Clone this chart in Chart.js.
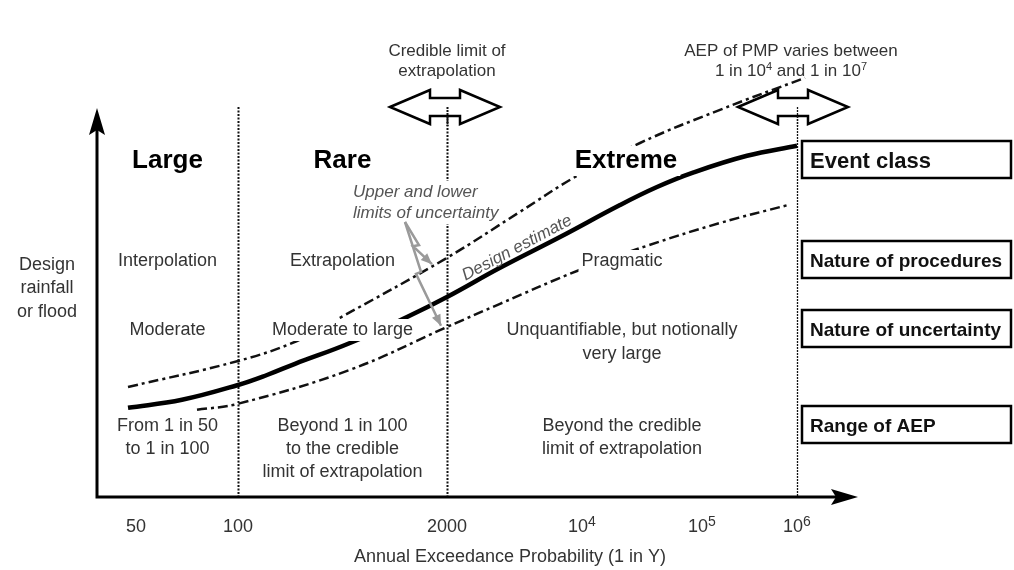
<!DOCTYPE html>
<html>
<head>
<meta charset="utf-8">
<script src="https://cdn.jsdelivr.net/npm/chart.js"></script>
<style>
  body { margin: 0; background: #fff; }
</style>
</head>
<body>
<canvas id="aepChart" width="1014" height="570"></canvas>
<script>
// schematic x position (not a true log scale), design magnitude in arbitrary units
const designX = [0.31, 0.85, 1.41, 1.70, 1.98, 2.53, 3.10, 3.50, 4.03, 4.63, 5.23, 5.60, 5.96, 6.50, 7.00];
const designY = [2.23, 2.43, 2.80, 3.05, 3.33, 3.85, 4.50, 5.00, 5.73, 6.50, 7.30, 7.75, 8.11, 8.53, 8.78];
const upperX = [0.31, 1.41, 2.00, 2.43, 3.50, 4.23, 4.78, 5.43, 6.23, 7.08];
const upperY = [2.75, 3.40, 3.90, 4.48, 5.98, 7.13, 8.00, 8.85, 9.68, 10.48];
const lowerX = [1.00, 1.41, 2.53, 3.50, 4.03, 4.83, 5.50, 6.23, 6.91];
const lowerY = [2.18, 2.33, 3.18, 4.25, 4.83, 5.68, 6.28, 6.85, 7.30];

const tickValues = [0.39, 1.41, 3.5, 4.85, 6.05, 7.0];
const tickLabels = ['50', '100', '2000', '10', '10', '10'];
const tickPowers = ['', '', '', '4', '5', '6'];
const dividers = [1.41, 3.5, 7.0];

const eventClasses = ['Large', 'Rare', 'Extreme'];
const procedures = ['Interpolation', 'Extrapolation', 'Pragmatic'];
const uncertainty = [['Moderate'], ['Moderate to large'], ['Unquantifiable, but notionally', 'very large']];
const aepRanges = [
  ['From 1 in 50', 'to 1 in 100'],
  ['Beyond 1 in 100', 'to the credible', 'limit of extrapolation'],
  ['Beyond the credible', 'limit of extrapolation']
];
const rowTitles = ['Event class', 'Nature of procedures', 'Nature of uncertainty', 'Range of AEP'];

const FONT = '"Liberation Sans", Arial, sans-serif';
const GREY = '#333';

function toPoints(xs, ys) {
  return xs.map((x, i) => ({ x: x, y: ys[i] }));
}

function text(ctx, str, x, y, font, color, align, bgHalf) {
  ctx.font = font;
  ctx.textAlign = align || 'center';
  ctx.textBaseline = 'middle';
  if (bgHalf) {
    const w = ctx.measureText(str).width;
    const left = align === 'left' ? x : x - w / 2;
    ctx.fillStyle = '#fff';
    ctx.fillRect(left - 3, y - bgHalf, w + 6, bgHalf * 2);
  }
  ctx.fillStyle = color;
  ctx.fillText(str, x, y);
}

// draws runs of [string, isSuperscript] centred on cx
function supText(ctx, parts, cx, y, size, supSize, color) {
  const big = size + 'px ' + FONT, small = supSize + 'px ' + FONT;
  let total = 0;
  parts.forEach(p => { ctx.font = p[1] ? small : big; total += ctx.measureText(p[0]).width; });
  let x = cx - total / 2;
  ctx.textAlign = 'left';
  ctx.fillStyle = color;
  parts.forEach(p => {
    ctx.font = p[1] ? small : big;
    ctx.textBaseline = p[1] ? 'alphabetic' : 'middle';
    ctx.fillText(p[0], x, p[1] ? y - 1 : y);
    x += ctx.measureText(p[0]).width;
  });
}

function doubleArrow(ctx, cx, cy) {
  const half = 55, head = 40, hh = 17, sh = 9;
  ctx.beginPath();
  ctx.moveTo(cx - half, cy);
  ctx.lineTo(cx - half + head, cy - hh);
  ctx.lineTo(cx - half + head, cy - sh);
  ctx.lineTo(cx + half - head, cy - sh);
  ctx.lineTo(cx + half - head, cy - hh);
  ctx.lineTo(cx + half, cy);
  ctx.lineTo(cx + half - head, cy + hh);
  ctx.lineTo(cx + half - head, cy + sh);
  ctx.lineTo(cx - half + head, cy + sh);
  ctx.lineTo(cx - half + head, cy + hh);
  ctx.closePath();
  ctx.fillStyle = '#fff';
  ctx.fill();
  ctx.lineWidth = 2.5;
  ctx.lineJoin = 'miter';
  ctx.strokeStyle = '#000';
  ctx.stroke();
}

function boltArrow(ctx, pts) {
  ctx.save();
  ctx.strokeStyle = '#9a9a9a';
  ctx.fillStyle = '#9a9a9a';
  ctx.lineWidth = 2.5;
  ctx.beginPath();
  ctx.moveTo(pts[0][0], pts[0][1]);
  for (let i = 1; i < pts.length; i++) ctx.lineTo(pts[i][0], pts[i][1]);
  ctx.stroke();
  const a = pts[pts.length - 1], b = pts[pts.length - 2];
  const ang = Math.atan2(a[1] - b[1], a[0] - b[0]);
  ctx.beginPath();
  ctx.moveTo(a[0], a[1]);
  ctx.lineTo(a[0] - 12 * Math.cos(ang - 0.4), a[1] - 12 * Math.sin(ang - 0.4));
  ctx.lineTo(a[0] - 12 * Math.cos(ang + 0.4), a[1] - 12 * Math.sin(ang + 0.4));
  ctx.closePath();
  ctx.fill();
  ctx.restore();
}

const schematic = {
  id: 'schematic',
  beforeDatasetsDraw(chart) {
    const ctx = chart.ctx, xs = chart.scales.x, ys = chart.scales.y;
    ctx.save();
    dividers.forEach((d, i) => {
      const px = Math.round(xs.getPixelForValue(d)) + 0.5;
      ctx.beginPath();
      ctx.setLineDash(i < 2 ? [2, 1.5] : [2, 1]);
      ctx.lineWidth = i < 2 ? 2 : 1.3;
      ctx.strokeStyle = '#111';
      ctx.moveTo(px, ys.getPixelForValue(9.75));
      ctx.lineTo(px, ys.getPixelForValue(0));
      ctx.stroke();
    });
    ctx.restore();
  },
  afterDatasetsDraw(chart) {
    const ctx = chart.ctx, xs = chart.scales.x, ys = chart.scales.y;
    const px = v => xs.getPixelForValue(v), py = v => ys.getPixelForValue(v);
    ctx.save();
    ctx.setLineDash([]);

    // axes with arrow heads
    const x0 = px(0), y0 = py(0), yTop = py(9.725), xEnd = px(7.61);
    ctx.strokeStyle = '#000';
    ctx.fillStyle = '#000';
    ctx.lineWidth = 3;
    ctx.beginPath();
    ctx.moveTo(x0, y0 + 1.5);
    ctx.lineTo(x0, yTop + 20);
    ctx.moveTo(x0 - 1.5, y0);
    ctx.lineTo(xEnd - 20, y0);
    ctx.stroke();
    ctx.beginPath();
    ctx.moveTo(x0, yTop);
    ctx.lineTo(x0 + 8, yTop + 27);
    ctx.lineTo(x0, yTop + 22);
    ctx.lineTo(x0 - 8, yTop + 27);
    ctx.closePath();
    ctx.fill();
    ctx.beginPath();
    ctx.moveTo(xEnd, y0);
    ctx.lineTo(xEnd - 27, y0 - 8);
    ctx.lineTo(xEnd - 22, y0);
    ctx.lineTo(xEnd - 27, y0 + 8);
    ctx.closePath();
    ctx.fill();

    // tick labels
    tickValues.forEach((v, i) => {
      if (tickPowers[i]) {
        supText(ctx, [[tickLabels[i], false], [tickPowers[i], true]], px(v), 527, 18, 14, GREY);
      } else {
        text(ctx, tickLabels[i], px(v), 527, '18px ' + FONT, GREY);
      }
    });
    text(ctx, 'Annual Exceedance Probability (1 in Y)', 510, 557, '18px ' + FONT, GREY);
    ['Design', 'rainfall', 'or flood'].forEach((s, i) => text(ctx, s, 47, 265 + i * 23.5, '18px ' + FONT, GREY));

    // column labels, centred in each region
    const bounds = [0].concat(dividers);
    const rowY = [py(8.4), py(5.9), py(4.175), py(1.775)];
    eventClasses.forEach((s, i) => {
      const cx = (px(bounds[i]) + px(bounds[i + 1])) / 2;
      text(ctx, s, cx + (i === 2 ? 4 : 0), rowY[0], 'bold 26px ' + FONT, '#000', 'center', 15);
      text(ctx, procedures[i], cx, rowY[1], '18px ' + FONT, GREY, 'center', 11);
      uncertainty[i].forEach((s2, j) => text(ctx, s2, cx, rowY[2] + j * 24.5, '18px ' + FONT, GREY, 'center', 11));
      aepRanges[i].forEach((s2, j) => text(ctx, s2, cx, rowY[3] + j * 23, '18px ' + FONT, GREY, 'center', 11));
    });

    // row titles in boxes right of the last divider
    const bx = px(dividers[2]) + 4, bw = chart.chartArea.right - bx;
    rowTitles.forEach((s, i) => {
      ctx.fillStyle = '#fff';
      ctx.fillRect(bx, rowY[i] - 20, bw, 37);
      ctx.lineWidth = 2.5;
      ctx.strokeStyle = '#000';
      ctx.strokeRect(bx + 1, rowY[i] - 20, bw - 2, 37);
      text(ctx, s, bx + 9, rowY[i] + 1, 'bold ' + (i === 0 ? 22 : 19) + 'px ' + FONT, '#111', 'left');
    });

    // uncertainty note and design label
    text(ctx, 'Upper and lower', px(2.56), 192, 'italic 17px ' + FONT, '#555', 'left', 11);
    text(ctx, 'limits of uncertainty', px(2.56), 213, 'italic 17px ' + FONT, '#555', 'left', 11);
    boltArrow(ctx, [[px(3.08), py(6.875)], [px(3.22), py(6.3)], [px(3.16), py(6.27)], [px(3.35), py(5.82)]]);
    boltArrow(ctx, [[px(3.08), py(6.875)], [px(3.24), py(5.63)], [px(3.19), py(5.58)], [px(3.44), py(4.28)]]);

    ctx.save();
    ctx.translate(px(4.2), py(6.225));
    ctx.rotate(-0.49);
    text(ctx, 'Design estimate', 0, 0, 'italic 17px ' + FONT, '#555');
    ctx.restore();

    // top notes with double arrows
    doubleArrow(ctx, px(dividers[1]) - 2, 107);
    doubleArrow(ctx, px(dividers[2]) - 4, 107);
    dividers.slice(1).forEach((d, i) => {
      const x = Math.round(px(d)) + 0.5;
      ctx.beginPath();
      ctx.setLineDash([2, 1]);
      ctx.lineWidth = i === 0 ? 2 : 1.3;
      ctx.strokeStyle = '#111';
      ctx.moveTo(x, 107);
      ctx.lineTo(x, 126);
      ctx.stroke();
    });
    ctx.setLineDash([]);
    text(ctx, 'Credible limit of', px(dividers[1]), 51, '17px ' + FONT, GREY);
    text(ctx, 'extrapolation', px(dividers[1]), 71, '17px ' + FONT, GREY);
    text(ctx, 'AEP of PMP varies between', 791, 51, '17px ' + FONT, GREY);
    supText(ctx, [['1 in 10', false], ['4', true], [' and 1 in 10', false], ['7', true]], 791, 71, 17, 11, GREY);
    ctx.restore();
  }
};

const ctx = document.getElementById('aepChart');

new Chart(ctx, {
  type: 'line',
  data: {
    datasets: [
      {
        label: 'Design estimate',
        data: toPoints(designX, designY),
        borderColor: '#000',
        borderWidth: 4.5,
        pointRadius: 0,
        tension: 0.4
      },
      {
        label: 'Upper limit',
        data: toPoints(upperX, upperY),
        borderColor: '#111',
        borderWidth: 2.5,
        borderDash: [10, 4, 3, 4],
        pointRadius: 0,
        tension: 0.4
      },
      {
        label: 'Lower limit',
        data: toPoints(lowerX, lowerY),
        borderColor: '#111',
        borderWidth: 2.5,
        borderDash: [10, 4, 3, 4],
        pointRadius: 0,
        tension: 0.4
      }
    ]
  },
  options: {
    responsive: false,
    devicePixelRatio: 1,
    animation: false,
    layout: { padding: { left: 97, right: 2, top: 57, bottom: 73 } },
    scales: {
      x: { type: 'linear', min: 0, max: 9.15, display: false },
      y: { min: 0, max: 11, display: false }
    },
    plugins: {
      legend: { display: false },
      tooltip: { enabled: false }
    }
  },
  plugins: [schematic]
});
</script>
</body>
</html>
